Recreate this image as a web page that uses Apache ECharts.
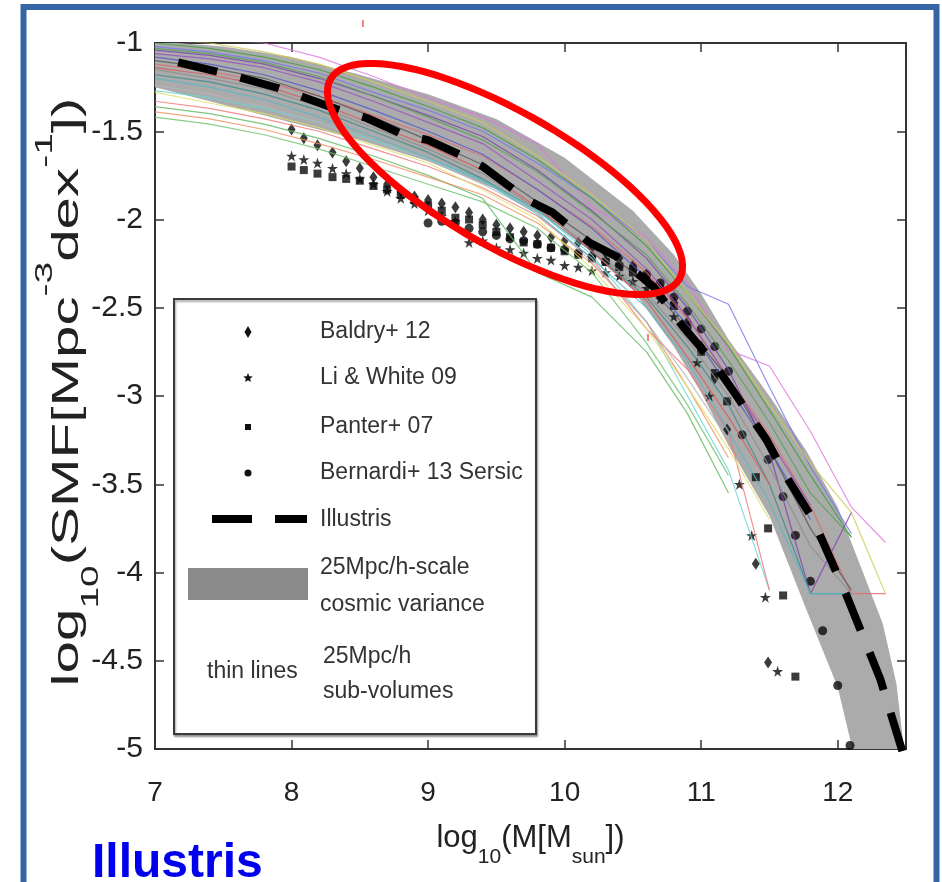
<!DOCTYPE html>
<html>
<head>
<meta charset="utf-8">
<title>Illustris SMF</title>
<script src="https://cdn.jsdelivr.net/npm/echarts@6/dist/echarts.min.js"></script>
<style>
html, body { margin: 0; padding: 0; background: #fff; }
#main { width: 942px; height: 882px; }
</style>
</head>
<body>
<div id="main"></div>
<script>
var FONT = '"Liberation Sans", Arial, Helvetica, sans-serif';

// x positions shared by the thin sub-volume curves
var subX = [7.0, 7.4, 7.8, 8.2, 8.6, 9.0, 9.4, 9.8, 10.2, 10.6, 10.9, 11.2, 11.5, 11.8, 12.1, 12.35];
var subLines = [
    [-0.95, -0.97, -1.00, -1.08, -1.19, -1.31, -1.42, -1.57, -1.93, -2.10, -2.36, -2.74, -2.83, -3.20, -3.63, -3.83],
    [-1.02, -1.05, -1.10, -1.17, -1.28, -1.38, -1.50, -1.68, -1.88, -2.12, -2.38, -2.48, -2.95, -3.40, -3.78],
    [-1.00, -1.03, -1.08, -1.15, -1.25, -1.36, -1.48, -1.66, -1.88, -2.15, -2.42, -2.72, -3.08, -3.45, -3.80],
    [-0.98, -1.00, -1.05, -1.12, -1.22, -1.33, -1.45, -1.64, -1.86, -2.12, -2.42, -2.70, -3.05, -3.38, -3.66, -4.12],
    [-1.04, -1.07, -1.12, -1.20, -1.30, -1.41, -1.53, -1.72, -1.95, -2.22, -2.50, -2.85, -3.32, -4.12, -3.66],
    [-1.12, -1.16, -1.22, -1.30, -1.41, -1.52, -1.64, -1.83, -2.04, -2.30, -2.56, -2.90, -3.22, -3.62, -4.12, -4.12],
    [-1.15, -1.20, -1.26, -1.36, -1.48, -1.60, -1.74, -1.94, -2.16, -2.42, -2.68, -3.00, -3.40, -3.85, -4.12],
    [-1.18, -1.22, -1.29, -1.38, -1.50, -1.62, -1.77, -1.95, -2.18, -2.44, -2.72, -3.05, -3.50, -4.12, -4.12],
    [-1.27, -1.31, -1.37, -1.45, -1.55, -1.66, -1.78, -1.95, -2.20, -2.58, -3.00, -3.42, -4.10],
    [-1.33, -1.37, -1.43, -1.50, -1.60, -1.70, -1.82, -1.98, -2.22, -2.62, -2.85, -3.20, -4.10],
    [-1.36, -1.40, -1.46, -1.54, -1.64, -1.75, -1.88, -2.30, -2.44, -2.75, -3.10, -3.55],
    [-1.42, -1.46, -1.52, -1.60, -1.70, -1.80, -1.90, -2.05, -2.30, -2.70, -3.05, -3.45],
    [-1.39, -1.43, -1.49, -1.57, -1.66, -1.76, -1.86, -2.02, -2.25, -2.58, -2.95, -3.35],
    [-1.10, -1.14, -1.20, -1.30, -1.42, -1.55, -1.69, -1.90, -2.12, -2.36, -2.62, -2.90, -3.30, -3.75, -4.10],
    [-1.08, -1.12, -1.18, -1.27, -1.38, -1.50, -1.63, -1.83, -2.05, -2.33, -2.60, -2.95, -3.30, -3.70],
    [-1.06, -1.09, -1.14, -1.22, -1.33, -1.45, -1.57, -1.78, -2.00, -2.28, -2.55, -2.90, -3.25, -3.62],
    [-1.03, -1.06, -1.11, -1.19, -1.30, -1.42, -1.55, -1.73, -1.96, -2.20, -2.48, -2.80, -3.15, -3.55, -3.80],
    [-1.14, -1.18, -1.24, -1.34, -1.46, -1.58, -1.72, -1.93, -2.18, -2.46, -2.78, -3.12, -3.50],
    [-1.28, -1.34, -1.40, -1.48, -1.58, -1.68, -1.83, -2.00, -2.28, -2.62, -2.95, -3.30, -3.70],
    [-1.24, -1.29, -1.36, -1.45, -1.56, -1.66, -1.80, -1.96, -2.24, -2.58, -2.90, -3.25],
    [-1.20, -1.25, -1.32, -1.42, -1.53, -1.65, -1.78, -1.97, -2.22, -2.50, -2.80, -3.20, -3.60, -4.12, -4.12]
];
var subColors = ['#dd77dd', '#7777ee', '#3f9f3f', '#cccc55', '#8040b0', '#e06a6a', '#8c8c8c',
    '#3a8a8a', '#66d6d6', '#ee7777', '#5cb85c', '#6cbf6c', '#f09060', '#555555',
    '#5555cc', '#9a50c0', '#55a055', '#d85a5a', '#dede66', '#b4b4b4', '#55b8c8'];

// 25Mpc/h cosmic variance band
var bandX = [7.0, 7.5, 8.0, 8.5, 9.0, 9.5, 10.0, 10.5, 10.8, 11.0, 11.2, 11.5, 11.77, 12.0, 12.2, 12.33, 12.43, 12.5];
var bandHi = [-0.99, -1.02, -1.08, -1.18, -1.29, -1.43, -1.65, -1.95, -2.2, -2.42, -2.68, -3.0, -3.31, -3.63, -4.03, -4.29, -4.63, -5.1];
var bandLo = [-1.25, -1.35, -1.45, -1.55, -1.67, -1.83, -2.05, -2.4, -2.72, -2.98, -3.28, -3.68, -4.21, -4.65, -5.3, -5.6, -5.8, -6.0];

// Illustris
var illX = [7.17, 7.5, 7.9, 8.35, 8.55, 8.82, 9.0, 9.27, 9.4, 9.73, 9.91, 10.18, 10.38, 10.65, 10.87, 11.08, 11.26, 11.48, 11.61, 11.82, 12.07, 12.31, 12.5];
var illY = [-1.11, -1.17, -1.255, -1.38, -1.425, -1.52, -1.55, -1.646, -1.70, -1.89, -1.96, -2.13, -2.21, -2.38, -2.61, -2.80, -3.0, -3.25, -3.44, -3.70, -4.14, -4.60, -5.08];

// observations
var baldryX = [8.0, 8.09, 8.19, 8.3, 8.4, 8.5, 8.6, 8.7, 8.8, 8.9, 9.0, 9.1, 9.2, 9.3, 9.4, 9.5, 9.6, 9.7, 9.8, 9.9, 10.0, 10.1, 10.2, 10.3, 10.4, 10.5, 10.6, 10.7, 10.8, 10.9, 11.0, 11.1, 11.19, 11.4, 11.49];
var baldryY = [-1.49, -1.54, -1.58, -1.62, -1.67, -1.71, -1.76, -1.80, -1.84, -1.87, -1.89, -1.91, -1.93, -1.96, -2.0, -2.03, -2.05, -2.07, -2.09, -2.10, -2.12, -2.13, -2.16, -2.19, -2.22, -2.26, -2.31, -2.38, -2.47, -2.58, -2.72, -2.90, -3.19, -3.95, -4.51];
var liX = [8.0, 8.09, 8.19, 8.3, 8.4, 8.5, 8.6, 8.7, 8.8, 8.9, 9.0, 9.1, 9.2, 9.3, 9.4, 9.5, 9.6, 9.7, 9.8, 9.9, 10.0, 10.1, 10.2, 10.3, 10.4, 10.5, 10.6, 10.7, 10.8, 10.97, 11.06, 11.28, 11.37, 11.47, 11.56];
var liY = [-1.64, -1.66, -1.68, -1.71, -1.74, -1.77, -1.80, -1.84, -1.88, -1.91, -1.95, -1.98, -2.01, -2.13, -2.12, -2.16, -2.17, -2.19, -2.22, -2.23, -2.26, -2.27, -2.29, -2.30, -2.32, -2.35, -2.39, -2.45, -2.55, -2.81, -3.0, -3.50, -3.79, -4.14, -4.56];
var panterX = [8.0, 8.09, 8.19, 8.3, 8.4, 8.5, 8.6, 8.7, 8.8, 8.9, 9.0, 9.1, 9.2, 9.3, 9.4, 9.5, 9.6, 9.7, 9.8, 9.9, 10.0, 10.1, 10.2, 10.3, 10.4, 10.5, 10.6, 10.7, 10.8, 10.9, 11.0, 11.1, 11.19, 11.4, 11.49, 11.6, 11.69];
var panterY = [-1.70, -1.72, -1.74, -1.76, -1.77, -1.78, -1.81, -1.83, -1.86, -1.89, -1.92, -1.95, -1.99, -2.00, -2.03, -2.07, -2.10, -2.13, -2.14, -2.16, -2.18, -2.20, -2.22, -2.24, -2.27, -2.30, -2.34, -2.41, -2.49, -2.60, -2.75, -2.87, -3.03, -3.46, -3.75, -4.13, -4.59];
var bernardiX = [9.0, 9.1, 9.2, 9.3, 9.4, 9.5, 9.6, 9.7, 9.8, 9.9, 10.0, 10.1, 10.2, 10.3, 10.4, 10.5, 10.6, 10.7, 10.8, 10.9, 11.0, 11.1, 11.2, 11.3, 11.49, 11.6, 11.69, 11.8, 11.89, 12.0, 12.09];
var bernardiY = [-2.02, -2.01, -2.02, -2.05, -2.07, -2.09, -2.11, -2.12, -2.14, -2.16, -2.17, -2.19, -2.21, -2.24, -2.26, -2.28, -2.31, -2.36, -2.44, -2.52, -2.62, -2.72, -2.86, -3.22, -3.36, -3.57, -3.79, -4.05, -4.33, -4.64, -4.98];

var STAR = 'path://M50 0 L61.8 35.1 L98.9 35.1 L69 56.7 L80.4 91.9 L50 70.2 L19.6 91.9 L31 56.7 L1.1 35.1 L38.2 35.1 Z';

function zip(xs, ys) {
    var out = [];
    for (var i = 0; i < xs.length && i < ys.length; i++) {
        if (ys[i] != null) out.push([xs[i], ys[i]]);
    }
    return out;
}

function renderBand(params, api) {
    var pts = [];
    for (var i = 0; i < bandX.length; i++) pts.push(api.coord([bandX[i], bandHi[i]]));
    for (var j = bandX.length - 1; j >= 0; j--) pts.push(api.coord([bandX[j], bandLo[j]]));
    return { type: 'polygon', shape: { points: pts }, style: { fill: '#ababab' } };
}

// outline shapes for the overlay (pixel space)
function ellipsePts(cx, cy, a, b, ang) {
    var pts = [];
    for (var k = 0; k < 90; k++) {
        var t = k / 90 * Math.PI * 2;
        var ex = a * Math.cos(t), ey = b * Math.sin(t);
        pts.push([cx + ex * Math.cos(ang) - ey * Math.sin(ang), cy + ex * Math.sin(ang) + ey * Math.cos(ang)]);
    }
    return pts;
}
function starPts(cx, cy, r1, r2) {
    var pts = [];
    for (var k = 0; k < 10; k++) {
        var r = k % 2 ? r2 : r1;
        var t = -Math.PI / 2 + k * Math.PI / 5;
        pts.push([cx + r * Math.cos(t), cy + r * Math.sin(t)]);
    }
    return pts;
}

var series = [];
series.push({
    type: 'custom',
    name: '25Mpc/h-scale cosmic variance',
    clip: true,
    silent: true,
    data: [[9, -2]],
    renderItem: renderBand
});
for (var i = 0; i < subLines.length; i++) {
    series.push({
        type: 'line',
        data: zip(subX, subLines[i]),
        showSymbol: false,
        silent: true,
        clip: true,
        lineStyle: { color: subColors[i], width: 1.2, opacity: 0.8 }
    });
}
series.push({
    type: 'line',
    name: 'Illustris',
    data: zip(illX, illY),
    showSymbol: false,
    clip: true,
    lineStyle: { color: '#000', width: 8, type: [40, 24], cap: 'butt' }
});
var obs = [
    { name: 'Baldry+ 12', x: baldryX, y: baldryY, symbol: 'diamond', size: [8, 12] },
    { name: 'Li & White 09', x: liX, y: liY, symbol: STAR, size: 11 },
    { name: 'Panter+ 07', x: panterX, y: panterY, symbol: 'rect', size: 8 },
    { name: 'Bernardi+ 13 Sersic', x: bernardiX, y: bernardiY, symbol: 'circle', size: 9 }
];
obs.forEach(function (o) {
    series.push({
        type: 'scatter',
        name: o.name,
        data: zip(o.x, o.y),
        symbol: o.symbol,
        symbolSize: o.size,
        itemStyle: { color: '#0a0a0a' }
    });
});

var tickStyle = { inside: true, length: 9, lineStyle: { color: '#333', width: 1.5 } };
var lineStyleAx = { show: true, lineStyle: { color: '#333', width: 2 } };

var legendText = function (x, y, txt) {
    return { type: 'text', x: x, y: y, z: 60,
        style: { text: txt, font: '23px ' + FONT, fill: '#333', verticalAlign: 'middle', align: 'left' } };
};

var graphics = [
    // legend box
    { type: 'rect', z: 50, shape: { x: 174, y: 299, width: 362, height: 435 },
      style: { fill: '#fff', stroke: '#3a3a3a', lineWidth: 2, shadowColor: 'rgba(0,0,0,0.35)', shadowOffsetY: 2, shadowOffsetX: 1, shadowBlur: 2 } },
    { type: 'polygon', z: 60, shape: { points: [[248, 326], [251.5, 332], [248, 338], [244.5, 332]] }, style: { fill: '#111' } },
    { type: 'polygon', z: 60, shape: { points: starPts(248, 378, 5, 2.2) }, style: { fill: '#111' } },
    { type: 'rect', z: 60, shape: { x: 245, y: 424, width: 6, height: 6 }, style: { fill: '#111' } },
    { type: 'circle', z: 60, shape: { cx: 248, cy: 473, r: 3.5 }, style: { fill: '#111' } },
    { type: 'line', z: 60, shape: { x1: 212, y1: 519, x2: 252, y2: 519 }, style: { stroke: '#000', lineWidth: 8 } },
    { type: 'line', z: 60, shape: { x1: 275, y1: 519, x2: 307, y2: 519 }, style: { stroke: '#000', lineWidth: 8 } },
    { type: 'rect', z: 60, shape: { x: 188, y: 568, width: 120, height: 32 }, style: { fill: '#8a8a8a' } },
    legendText(320, 332, 'Baldry+ 12'),
    legendText(320, 378, 'Li & White 09'),
    legendText(320, 427, 'Panter+ 07'),
    legendText(320, 473, 'Bernardi+ 13 Sersic'),
    legendText(320, 520, 'Illustris'),
    legendText(320, 568, '25Mpc/h-scale'),
    legendText(320, 605, 'cosmic variance'),
    legendText(207, 672, 'thin lines'),
    legendText(323, 657, '25Mpc/h'),
    legendText(323, 692, 'sub-volumes'),
    // y axis title
    { type: 'text', x: 68, y: 392, rotation: Math.PI / 2, scaleX: 1.62, z: 40,
      style: {
          text: '{a|log}{s|10}{a|(SMF[Mpc}{p|-3}{a|dex}{p|-1}{a|])}',
          align: 'center', verticalAlign: 'middle',
          rich: {
              a: { fontFamily: FONT, fontSize: 36, lineHeight: 70, fill: '#222' },
              s: { fontFamily: FONT, fontSize: 24, lineHeight: 34, verticalAlign: 'bottom', fill: '#222' },
              p: { fontFamily: FONT, fontSize: 24, lineHeight: 50, verticalAlign: 'top', fill: '#222' }
          }
      } },
    // red ellipse
    { type: 'polygon', z: 80, shape: { points: ellipsePts(505, 179, 201, 67, 29.8 * Math.PI / 180) },
      style: { fill: null, stroke: '#ff0000', lineWidth: 7 } },
    { type: 'line', z: 80, shape: { x1: 363, y1: 20, x2: 363, y2: 27 }, style: { stroke: '#e00', lineWidth: 1 } },
    { type: 'line', z: 80, shape: { x1: 648, y1: 334, x2: 648, y2: 341 }, style: { stroke: '#e00', lineWidth: 1 } },
    // caption
    { type: 'text', x: 92, y: 864, z: 80,
      style: { text: 'Illustris', font: 'bold 48px ' + FONT, fill: '#0000ee', verticalAlign: 'middle' } },
    // blue frame
    { type: 'rect', z: 90, shape: { x: 23.5, y: 7, width: 913, height: 900 },
      style: { fill: null, stroke: '#3565a5', lineWidth: 6 } }
];

var option = {
    animation: false,
    backgroundColor: '#fff',
    grid: { left: 155, top: 43, right: 36, bottom: 133, show: true, borderColor: '#333', borderWidth: 2, backgroundColor: 'transparent' },
    xAxis: [{
        type: 'value', min: 7, max: 12.5, interval: 1,
        axisLine: lineStyleAx, axisTick: tickStyle, splitLine: { show: false },
        axisLabel: { fontFamily: FONT, fontSize: 28, color: '#222', margin: 30, showMaxLabel: false },
        name: '{a|log}{s|10}{a|(M[M}{s|sun}{a|])}',
        nameLocation: 'middle', nameGap: 59,
        nameTextStyle: {
            rich: {
                a: { fontFamily: FONT, fontSize: 31, lineHeight: 60, color: '#222' },
                s: { fontFamily: FONT, fontSize: 21, lineHeight: 22, verticalAlign: 'bottom', color: '#222' }
            }
        }
    }, {
        type: 'value', position: 'top', min: 7, max: 12.5, interval: 1,
        axisLine: lineStyleAx, axisTick: tickStyle, axisLabel: { show: false }, splitLine: { show: false }
    }],
    yAxis: [{
        type: 'value', min: -5, max: -1, interval: 0.5,
        axisLine: lineStyleAx, axisTick: tickStyle, splitLine: { show: false },
        axisLabel: { fontFamily: FONT, fontSize: 30, color: '#222', margin: 12 }
    }, {
        type: 'value', position: 'right', min: -5, max: -1, interval: 0.5,
        axisLine: lineStyleAx, axisTick: tickStyle, axisLabel: { show: false }, splitLine: { show: false }
    }],
    series: series,
    graphic: { elements: graphics }
};

var chart = echarts.init(document.getElementById('main'));
chart.setOption(option);
</script>
</body>
</html>
